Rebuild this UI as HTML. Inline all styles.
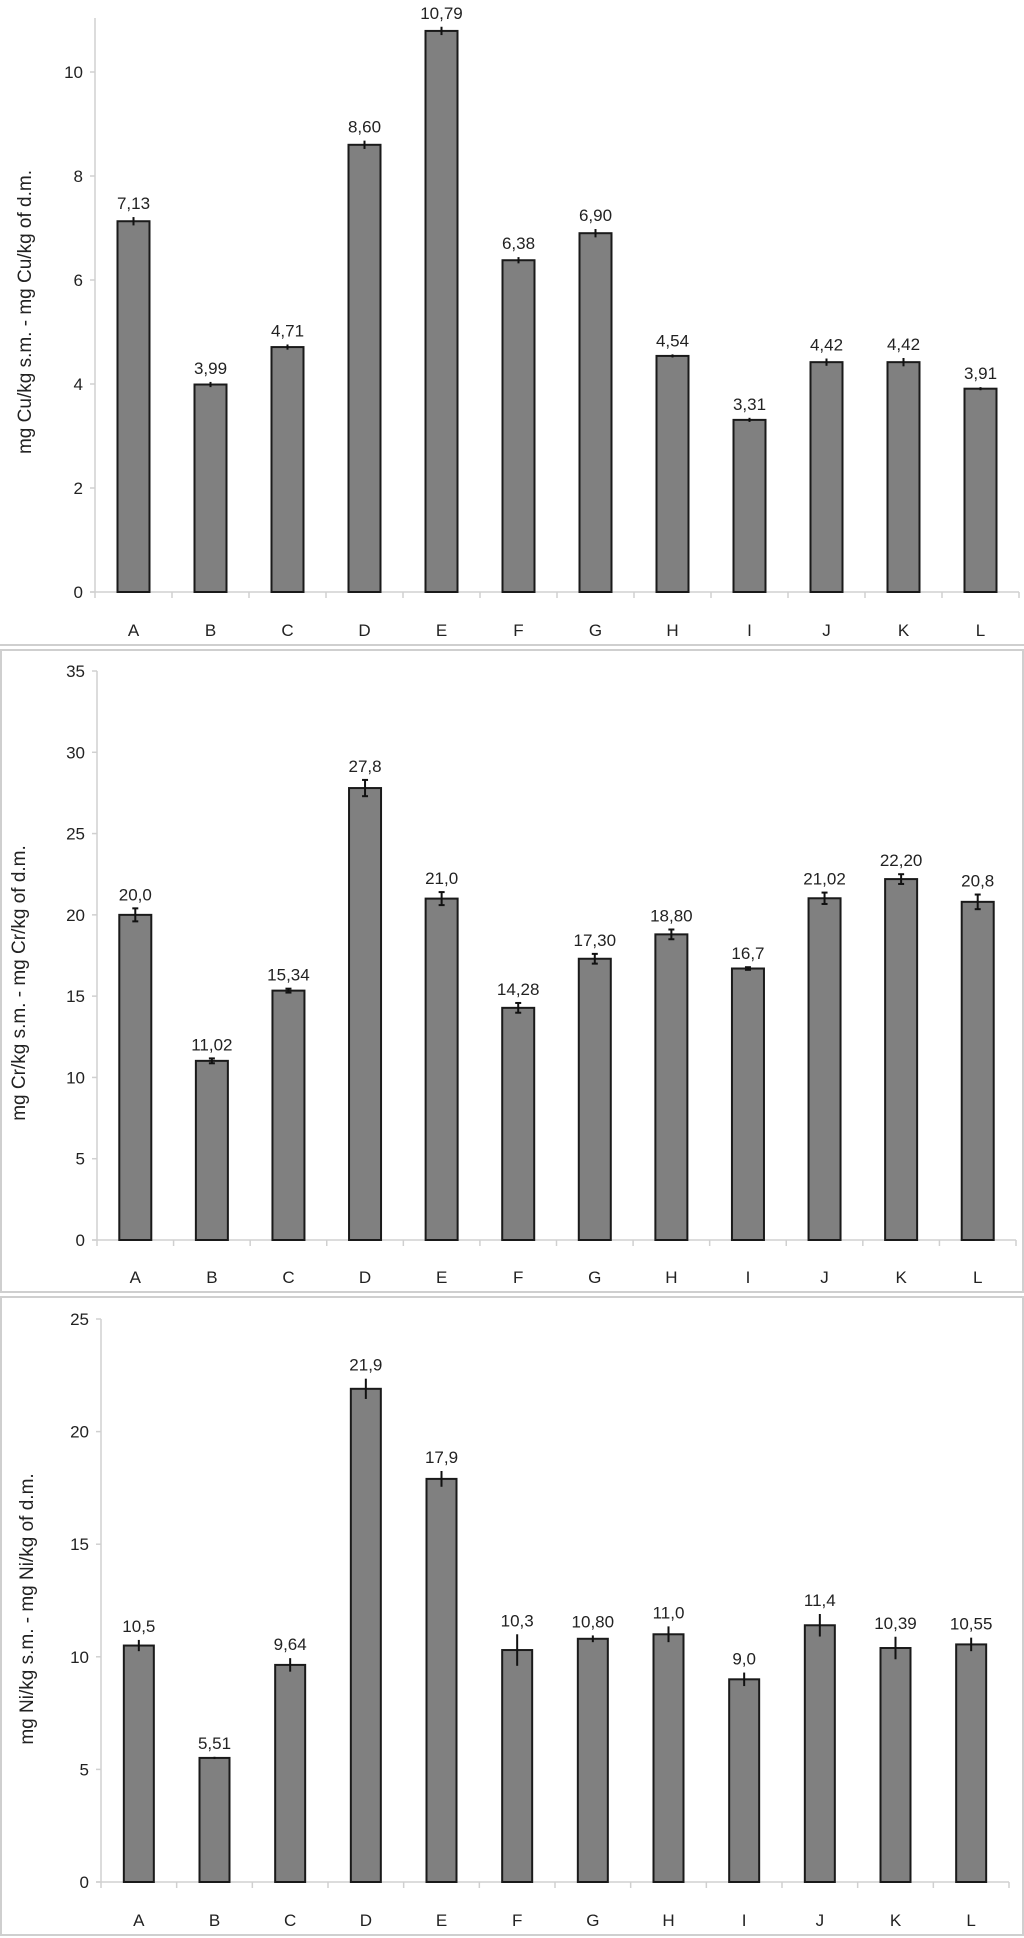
<!DOCTYPE html>
<html><head><meta charset="utf-8">
<style>
body{margin:0;background:#fff;}
svg{display:block;font-family:"Liberation Sans",sans-serif;}
</style></head>
<body>
<svg id="c" width="1024" height="1938" xmlns="http://www.w3.org/2000/svg">
<line x1="0" y1="645" x2="1024" y2="645" stroke="#cfcfcf" stroke-width="2"/>
<rect x="1" y="650" width="1022" height="642" fill="none" stroke="#cfcfcf" stroke-width="2"/>
<rect x="1" y="1297" width="1022" height="638" fill="none" stroke="#cfcfcf" stroke-width="2"/>
</svg>
<script>
const categories=["A","B","C","D","E","F","G","H","I","J","K","L"];
const cuValues=[7.13,3.99,4.71,8.60,10.79,6.38,6.90,4.54,3.31,4.42,4.42,3.91];
const cuErrors=[0.08,0.05,0.05,0.08,0.08,0.06,0.08,0.03,0.04,0.07,0.08,0.03];
const cuLabels=["7,13","3,99","4,71","8,60","10,79","6,38","6,90","4,54","3,31","4,42","4,42","3,91"];
const cuTicks=[0,2,4,6,8,10];
const crValues=[20.0,11.02,15.34,27.8,21.0,14.28,17.30,18.80,16.7,21.02,22.20,20.8];
const crErrors=[0.4,0.15,0.12,0.5,0.4,0.3,0.3,0.3,0.08,0.35,0.3,0.45];
const crLabels=["20,0","11,02","15,34","27,8","21,0","14,28","17,30","18,80","16,7","21,02","22,20","20,8"];
const crTicks=[0,5,10,15,20,25,30,35];
const niValues=[10.5,5.51,9.64,21.9,17.9,10.3,10.80,11.0,9.0,11.4,10.39,10.55];
const niErrors=[0.25,0.05,0.3,0.45,0.35,0.7,0.15,0.35,0.3,0.5,0.5,0.3];
const niLabels=["10,5","5,51","9,64","21,9","17,9","10,3","10,80","11,0","9,0","11,4","10,39","10,55"];
const niTicks=[0,5,10,15,20,25];

const NS="http://www.w3.org/2000/svg";
const svg=document.getElementById('c');
function mk(tag,attrs,parent){const e=document.createElementNS(NS,tag);for(const k in attrs)e.setAttribute(k,attrs[k]);(parent||svg).appendChild(e);return e;}

function chart(o,values,errors,labels,ticks){
  const g=mk('g',{});
  
  
  const y=v=>o.y0-(v-ticks[0])/(o.max-ticks[0])*(o.y0-o.yTop);
  const bw=(o.x1-o.x0)/categories.length;
  const x=i=>o.x0+bw*(i+0.5);
  const ax=mk('line',{x1:o.x0,y1:o.axisTop,x2:o.x0,y2:o.y0,stroke:'#d0d0d0','stroke-width':1.5},g);
  
  
  const bx=mk('line',{x1:o.x0-5,y1:o.y0,x2:o.x1,y2:o.y0,stroke:'#d0d0d0','stroke-width':1.5},g);
  
  
  ticks.forEach(t=>{
    const tk=mk('line',{x1:o.x0-5,y1:y(t),x2:o.x0,y2:y(t),stroke:'#d0d0d0','stroke-width':1.5},g);
    
    
    const tl=mk('text',{x:o.x0-12,y:y(t)+6,'text-anchor':'end','font-size':17,fill:'#222'},g);
    
    
    tl.textContent=String(t);
  });
  for(let i=0;i<=categories.length;i++){
    const xt=o.x0+bw*i;
    const tk=mk('line',{x1:xt,y1:o.y0,x2:xt,y2:o.y0+6,stroke:'#d0d0d0','stroke-width':1.5},g);
    
    
  }
  categories.forEach((c,i)=>{
    const cx=x(i),v=values[i];
    const b=mk('rect',{x:cx-o.bar/2,y:y(v),width:o.bar,height:o.y0-y(v),fill:'#808080',stroke:'#1a1a1a','stroke-width':2},g);
    
    
    const e=mk('line',{x1:cx,y1:y(v+errors[i]),x2:cx,y2:y(v-errors[i]),stroke:'#111','stroke-width':2},g);
    
    
    if(o.caps){
      [v+errors[i],v-errors[i]].forEach(ev=>{
        const cp=mk('line',{x1:cx-3,y1:y(ev),x2:cx+3,y2:y(ev),stroke:'#111','stroke-width':2},g);
        
        
      });
    }
    const vl=mk('text',{x:cx,y:y(v+errors[i])-8,'text-anchor':'middle','font-size':17,fill:'#222'},g);
    
    
    vl.textContent=labels[i];
    const cl=mk('text',{x:cx,y:o.labelY,'text-anchor':'middle','font-size':17,fill:'#222'},g);
    
    
    cl.textContent=c;
  });
  const t=mk('text',{x:0,y:0,'text-anchor':'middle','font-size':19,fill:'#222',transform:`translate(${o.titleX},${o.titleY}) rotate(-90)`},g);
  
  
  t.textContent=o.title;
}

chart({name:'cu-chart',x0:95,x1:1019,y0:592,yTop:72,max:10,axisTop:18,bar:32,labelY:636,titleX:31,titleY:312,caps:false,
  title:'mg Cu/kg s.m. - mg Cu/kg of d.m.'},cuValues,cuErrors,cuLabels,cuTicks);
chart({name:'cr-chart',x0:97,x1:1016,y0:1240,yTop:671,max:35,axisTop:671,bar:32,labelY:1283,titleX:25,titleY:983,caps:true,
  title:'mg Cr/kg s.m. - mg Cr/kg of d.m.'},crValues,crErrors,crLabels,crTicks);
chart({name:'ni-chart',x0:101,x1:1009,y0:1882,yTop:1319,max:25,axisTop:1319,bar:30,labelY:1926,titleX:33,titleY:1609,caps:false,
  title:'mg Ni/kg s.m. - mg Ni/kg of d.m.'},niValues,niErrors,niLabels,niTicks);
</script>
</body></html>
